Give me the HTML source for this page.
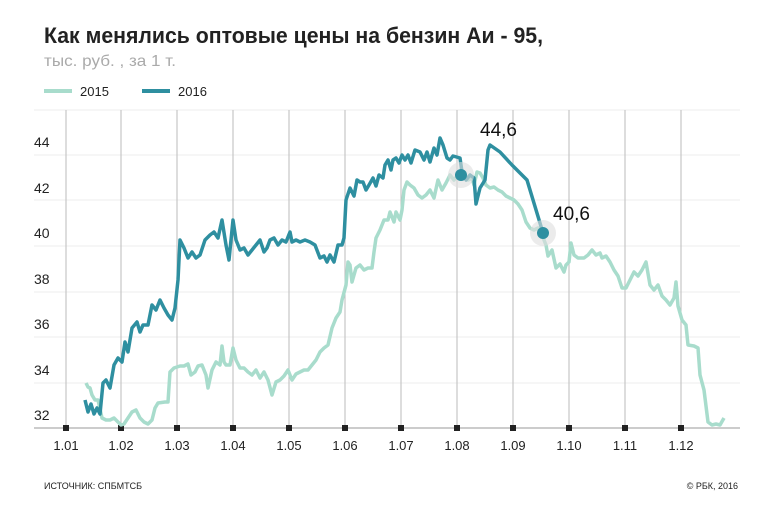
<!DOCTYPE html>
<html><head><meta charset="utf-8"><style>
body{margin:0;background:#fff;width:771px;height:515px;overflow:hidden;font-family:"Liberation Sans",sans-serif}
</style></head><body>
<svg width="771" height="515" xmlns="http://www.w3.org/2000/svg" font-family="Liberation Sans, sans-serif">
<text x="44" y="43" font-size="22" font-weight="bold" fill="#222" textLength="499" lengthAdjust="spacingAndGlyphs">Как менялись оптовые цены на бензин Аи - 95,</text>
<text x="44" y="66" font-size="16" fill="#aaa" textLength="132" lengthAdjust="spacingAndGlyphs">тыс. руб. , за 1 т.</text>
<line x1="44" y1="91" x2="72" y2="91" stroke="#a8dccc" stroke-width="4"/>
<text x="80" y="96" font-size="13" fill="#222">2015</text>
<line x1="142" y1="91" x2="170" y2="91" stroke="#2e8fa0" stroke-width="4"/>
<text x="178" y="96" font-size="13" fill="#222">2016</text>
<g stroke="#eee" stroke-width="1">
<line x1="34" y1="110" x2="740" y2="110"/><line x1="34" y1="155" x2="740" y2="155"/><line x1="34" y1="200" x2="740" y2="200"/><line x1="34" y1="246" x2="740" y2="246"/><line x1="34" y1="292" x2="740" y2="292"/><line x1="34" y1="337" x2="740" y2="337"/><line x1="34" y1="383" x2="740" y2="383"/>
</g>
<g stroke="#bbb" stroke-width="1">
<line x1="66" y1="110" x2="66" y2="428"/><line x1="121" y1="110" x2="121" y2="428"/><line x1="177" y1="110" x2="177" y2="428"/><line x1="233" y1="110" x2="233" y2="428"/><line x1="289" y1="110" x2="289" y2="428"/><line x1="345" y1="110" x2="345" y2="428"/><line x1="401" y1="110" x2="401" y2="428"/><line x1="457" y1="110" x2="457" y2="428"/><line x1="513" y1="110" x2="513" y2="428"/><line x1="569" y1="110" x2="569" y2="428"/><line x1="625" y1="110" x2="625" y2="428"/><line x1="681" y1="110" x2="681" y2="428"/>
</g>
<line x1="34" y1="428" x2="740" y2="428" stroke="#999" stroke-width="1"/>
<g fill="#222">
<rect x="63" y="425" width="6" height="6"/><rect x="118" y="425" width="6" height="6"/><rect x="174" y="425" width="6" height="6"/><rect x="230" y="425" width="6" height="6"/><rect x="286" y="425" width="6" height="6"/><rect x="342" y="425" width="6" height="6"/><rect x="398" y="425" width="6" height="6"/><rect x="454" y="425" width="6" height="6"/><rect x="510" y="425" width="6" height="6"/><rect x="566" y="425" width="6" height="6"/><rect x="622" y="425" width="6" height="6"/><rect x="678" y="425" width="6" height="6"/>
</g>
<g font-size="14" fill="#222">
<text x="34" y="147">44</text><text x="34" y="193">42</text><text x="34" y="238">40</text><text x="34" y="284">38</text><text x="34" y="329">36</text><text x="34" y="375">34</text><text x="34" y="420">32</text>
</g>
<g font-size="13" fill="#222" text-anchor="middle">
<text x="66" y="450">1.01</text><text x="121" y="450">1.02</text><text x="177" y="450">1.03</text><text x="233" y="450">1.04</text><text x="289" y="450">1.05</text><text x="345" y="450">1.06</text><text x="401" y="450">1.07</text><text x="457" y="450">1.08</text><text x="513" y="450">1.09</text><text x="569" y="450">1.10</text><text x="625" y="450">1.11</text><text x="681" y="450">1.12</text>
</g>
<polyline fill="none" stroke="#a8dccc" stroke-width="3.5" stroke-linejoin="round" points="86,383 88,387 90,388 92,395 95,400 98,400 102,418 106,420 110,420 114,418 118,422 121,425 124,424 128,418 132,412 136,410 140,418 144,422 148,424 152,420 155,408 158,403 165,402 168,402 170,372 174,368 180,366 184,366 188,364 191,375 195,372 198,366 202,365 206,375 208,388 212,370 216,362 220,365 222,346 224,362 226,365 230,365 233,348 236,360 240,368 244,368 248,372 252,375 256,370 260,378 264,372 268,380 272,395 276,382 280,380 284,376 288,370 292,380 296,374 300,372 304,370 308,370 312,365 316,360 320,352 324,348 328,345 332,328 336,318 340,312 342,300 346,285 348,262 350,265 352,282 356,268 360,265 364,270 368,268 372,268 374,252 376,238 380,230 384,220 388,220 390,212 394,222 396,212 400,220 402,210 404,190 407,182 410,185 414,188 418,195 422,198 426,195 430,190 434,198 438,180 442,190 446,183 450,175 454,180 458,175 460,172 464,175 468,180 472,178 474,185 477,172 480,173 483,178 486,185 490,188 494,187 498,190 502,192 506,196 510,198 514,200 518,204 522,210 526,222 530,228 534,230 538,228 542,235 546,245 548,256 552,250 556,268 560,264 564,272 566,265 569,262 571,243 574,255 578,258 584,258 588,255 592,250 596,255 600,253 602,258 606,256 610,262 614,270 618,276 622,288 626,288 630,280 634,272 638,276 642,270 646,262 650,285 654,290 658,285 662,296 666,300 670,305 674,298 676,282 678,306 682,320 686,325 688,345 694,346 698,348 700,375 704,390 708,422 712,425 716,424 720,425 724,418"/>
<polyline fill="none" stroke="#2e8fa0" stroke-width="3.5" stroke-linejoin="round" points="85,400 88,412 91,404 94,414 97,408 100,414 103,383 106,380 110,388 114,365 118,358 122,362 125,342 128,352 132,328 137,322 140,332 143,325 148,325 152,305 156,310 160,300 164,308 168,315 172,320 175,308 178,280 180,240 184,248 188,258 192,252 196,258 200,255 205,240 210,235 214,232 218,238 222,220 226,245 229,260 233,220 236,240 240,250 244,248 248,255 252,250 256,245 260,240 264,252 267,248 270,240 274,238 278,245 282,240 286,242 290,232 292,242 296,240 300,242 305,240 310,242 315,245 320,258 324,256 327,262 330,255 334,262 338,245 342,245 344,238 346,200 350,188 354,196 357,180 360,182 363,182 366,190 369,185 373,178 376,186 379,175 383,178 385,165 388,160 391,170 393,160 396,158 399,163 402,155 405,160 408,155 411,163 415,150 420,152 424,160 427,152 430,162 434,148 437,155 440,138 443,145 447,158 450,160 453,156 460,158 462,172 466,180 470,175 474,178 476,204 480,188 485,180 488,150 490,145 500,152 512,165 527,180 543,233"/>
<circle cx="461" cy="175" r="13" fill="#ddd" opacity="0.6"/>
<circle cx="461" cy="175" r="6" fill="#2e8fa0"/>
<circle cx="543" cy="233" r="13" fill="#ddd" opacity="0.6"/>
<circle cx="543" cy="233" r="6" fill="#2e8fa0"/>
<text x="480" y="136" font-size="19" fill="#111">44,6</text>
<text x="553" y="220" font-size="19" fill="#111">40,6</text>
<text x="44" y="489" font-size="9" fill="#222">ИСТОЧНИК: СПБМТСБ</text>
<text x="738" y="489" font-size="9" fill="#222" text-anchor="end">© РБК, 2016</text>
</svg>
</body></html>
